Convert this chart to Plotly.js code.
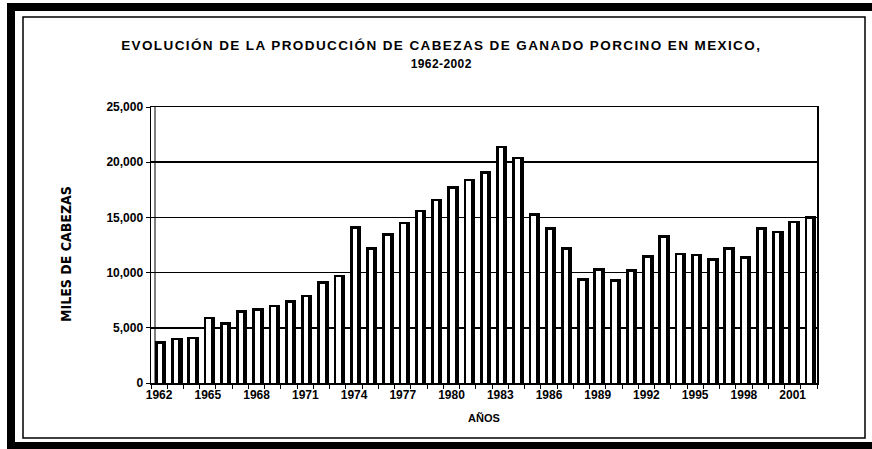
<!DOCTYPE html>
<html>
<head>
<meta charset="utf-8">
<script src="https://cdn.plot.ly/plotly-3.0.1.min.js"></script>
<style>
html,body{margin:0;padding:0;background:#fff;}
#chart{width:872px;height:449px;}
.gtitle{letter-spacing:1.4px;}
</style>
</head>
<body>
<div id="chart"></div>
<script>
// Data (miles de cabezas)
const years = [1962,1963,1964,1965,1966,1967,1968,1969,1970,1971,1972,1973,1974,1975,1976,1977,1978,1979,1980,1981,1982,1983,1984,1985,1986,1987,1988,1989,1990,1991,1992,1993,1994,1995,1996,1997,1998,1999,2000,2001,2002];
const cabezas = [3800,4100,4200,6000,5500,6600,6800,7100,7500,8000,9200,9800,14200,12300,13600,14600,15700,16700,17800,18500,19200,21500,20500,15400,14100,12300,9500,10400,9400,10300,11600,13400,11800,11700,11300,12300,11500,14100,13800,14700,15100];
const tickYears = [1962,1965,1968,1971,1974,1977,1980,1983,1986,1989,1992,1995,1998,2001];
const yTicks = [0,5000,10000,15000,20000,25000];

const W = 872, H = 449;
const M = {l:151, r:55, t:107, b:66};
const pw = W - M.l - M.r, ph = H - M.t - M.b;
const px = x => (x - M.l) / pw;
const py = y => (H - M.b - y) / ph;

const font = 'Liberation Sans, Arial, sans-serif';
const narrow = 'DejaVu Sans Condensed, Liberation Sans Narrow, Arial Narrow, sans-serif';

const outline = {
  type: 'bar', x: years, y: cabezas,
  width: 0.70, offset: -0.26,
  marker: {color: '#000', line: {width: 0}},
  hoverinfo: 'x+y', showlegend: false
};
const inner = {
  type: 'bar', x: years, y: cabezas.map(v => v - 240),
  width: 0.28, offset: -0.09,
  marker: {color: '#fff', line: {width: 0}},
  hoverinfo: 'skip', showlegend: false
};

function rectPx(x0, y0, x1, y1, fill, lw) {
  return {type:'rect', xref:'paper', yref:'paper', x0:px(x0), x1:px(x1), y0:py(y1), y1:py(y0),
    fillcolor: fill || 'rgba(0,0,0,0)', line:{color:'#000', width: lw || 0}, layer:'above'};
}

const layout = {
  width: W, height: H,
  margin: M,
  paper_bgcolor: '#fff', plot_bgcolor: '#fff',
  barmode: 'overlay',
  bargap: 0,
  showlegend: false,
  title: {
    text: '<b>EVOLUCIÓN DE LA PRODUCCIÓN DE CABEZAS DE GANADO PORCINO EN MEXICO,</b><br><b><span style="font-size:12px;letter-spacing:0.4px">1962-2002</span></b>',
    font: {family: font, size: 13.5, color: '#000'},
    x: 0.506, xanchor: 'center', y: 1 - 50/H, yanchor: 'middle'
  },
  xaxis: {
    type: 'linear',
    range: [1961.5, 2002.5],
    tickvals: tickYears,
    ticktext: tickYears.map(String),
    ticks: 'outside', ticklen: 0, tickcolor: '#000',
    minor: {tick0: 1961.5, dtick: 1, ticks: 'outside', ticklen: 4, tickcolor: '#000', showgrid: false},
    showgrid: false, zeroline: false,
    showline: true, linecolor: '#000', linewidth: 1.5, mirror: true,
    tickfont: {family: font, size: 12, color: '#000', weight: 'bold'},
    title: {text: '<b>AÑOS</b>', font: {family: font, size: 11, color: '#000'}, standoff: 13}
  },
  yaxis: {
    range: [0, 25000],
    tickvals: yTicks,
    tickformat: ',d',
    ticks: 'outside', ticklen: 4, tickcolor: '#000',
    showgrid: true, gridcolor: '#000', gridwidth: 1.5,
    zeroline: false,
    showline: true, linecolor: '#000', linewidth: 1.5, mirror: true,
    tickfont: {family: font, size: 12, color: '#000', weight: 'bold'},
    title: {text: ''}
  },
  annotations: [
    {text: '<b>MILES DE CABEZAS</b>', xref: 'paper', yref: 'paper', x: px(66), y: py(254),
     xanchor: 'center', yanchor: 'middle', textangle: -90, showarrow: false,
     font: {family: narrow, size: 14, color: '#000'}}
  ],
  shapes: [
    rectPx(7, 3, 872, 11, '#000', 0),
    rectPx(7, 3, 15, 449, '#000', 0),
    rectPx(7, 442, 872, 449, '#000', 0),
    rectPx(23, 17, 865, 438, null, 1.5),
    {type:'line', xref:'paper', yref:'paper', x0:px(155), x1:px(155), y0:0, y1:1, line:{color:'#000', width:1}, layer:'above'}
  ]
};

Plotly.newPlot('chart', [outline, inner], layout, {displayModeBar: false, staticPlot: true});
</script>
</body>
</html>
